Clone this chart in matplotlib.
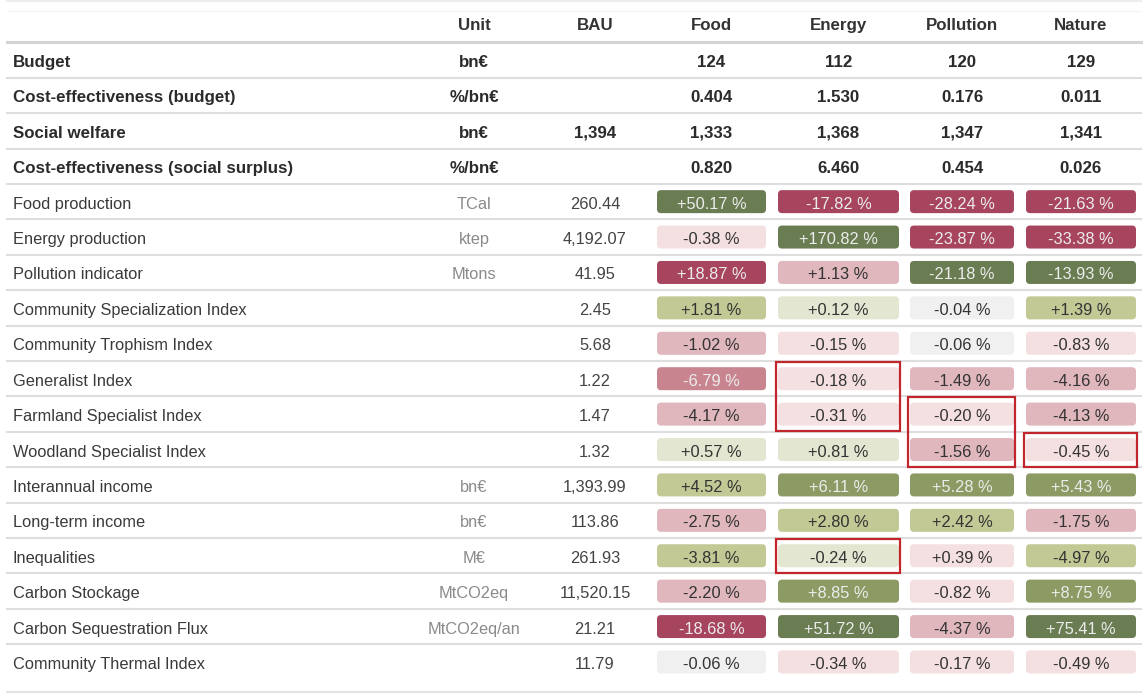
import matplotlib
matplotlib.use("Agg")
import matplotlib.pyplot as plt
from matplotlib.patches import FancyBboxPatch, Rectangle

plt.rcParams['font.family'] = ['Liberation Sans', 'DejaVu Sans']

# ---------------- data ----------------
scenarios = ["Food", "Energy", "Pollution", "Nature"]

summary_labels = ["Budget", "Cost-effectiveness (budget)", "Social welfare",
                  "Cost-effectiveness (social surplus)"]
summary_units = ["bn€", "%/bn€", "bn€", "%/bn€"]
summary_bau = ["", "", "1,394", ""]
budget = [124, 112, 120, 129]
ce_budget = [0.404, 1.530, 0.176, 0.011]
social_welfare = [1333, 1368, 1347, 1341]
ce_social = [0.820, 6.460, 0.454, 0.026]

indicators = ["Food production", "Energy production", "Pollution indicator",
              "Community Specialization Index", "Community Trophism Index",
              "Generalist Index", "Farmland Specialist Index",
              "Woodland Specialist Index", "Interannual income", "Long-term income",
              "Inequalities", "Carbon Stockage", "Carbon Sequestration Flux",
              "Community Thermal Index"]
indicator_units = ["TCal", "ktep", "Mtons", "", "", "", "", "", "bn€", "bn€", "M€",
                   "MtCO2eq", "MtCO2eq/an", ""]
bau = [260.44, 4192.07, 41.95, 2.45, 5.68, 1.22, 1.47, 1.32, 1393.99, 113.86,
       261.93, 11520.15, 21.21, 11.79]
food = [50.17, -0.38, 18.87, 1.81, -1.02, -6.79, -4.17, 0.57, 4.52, -2.75,
        -3.81, -2.20, -18.68, -0.06]
energy = [-17.82, 170.82, 1.13, 0.12, -0.15, -0.18, -0.31, 0.81, 6.11, 2.80,
          -0.24, 8.85, 51.72, -0.34]
pollution = [-28.24, -23.87, -21.18, -0.04, -0.06, -1.49, -0.20, -1.56, 5.28, 2.42,
             0.39, -0.82, -4.37, -0.17]
nature = [-21.63, -33.38, -13.93, 1.39, -0.83, -4.16, -4.13, -0.45, 5.43, -1.75,
          -4.97, 8.75, 75.41, -0.49]
# +1: an increase is desirable, -1: a decrease is desirable
direction = [1, 1, -1, 1, 1, 1, 1, 1, 1, 1, -1, 1, 1, 1]

highlights = [("Energy", "Generalist Index", "Farmland Specialist Index"),
              ("Pollution", "Farmland Specialist Index", "Woodland Specialist Index"),
              ("Nature", "Woodland Specialist Index", "Woodland Specialist Index"),
              ("Energy", "Inequalities", "Inequalities")]

# ---------------- style / layout ----------------
W, H = 1145, 695
level_colors = {4: "#6a7c51", 3: "#8b9b63", 2: "#c2c995", 1: "#e3e6d0", 0: "#f1f0f1",
                -1: "#f5e0e1", -2: "#dfb7bd", -3: "#c8858f", -4: "#a7455f"}
col_left = [657, 778, 910, 1026]
col_right = [766, 899, 1014, 1136]
x_label, x_unit, x_bau = 13, 474, 595
y_header = 23
y_first = 60
step = 35.41
line_x0, line_x1 = 7, 1141
sep_color = "#dedede"
fs = 11.8
fs_b = 12.2
VA = "center_baseline"


def level(v, d):
    a = abs(v)
    if a < 0.1:
        b = 0
    elif a < 1:
        b = 1
    elif a < 5:
        b = 2
    elif a < 10:
        b = 3
    else:
        b = 4
    s = 1 if v * d > 0 else -1
    return s * b


fig = plt.figure(figsize=(W / 100, H / 100), dpi=100)
ax = fig.add_axes([0, 0, 1, 1])
ax.set_xlim(0, W)
ax.set_ylim(H, 0)
ax.axis("off")

col_centers = [(l + r) / 2 for l, r in zip(col_left, col_right)]

# header
ax.plot([line_x0, line_x1], [1, 1], color="#ececec", lw=1.5)
ax.plot([line_x0, line_x1], [11, 11], color="#f6f6f6", lw=1)
for txt, x in zip(["Unit", "BAU"] + scenarios, [x_unit, x_bau] + col_centers):
    ax.text(x, y_header + 1, txt, ha="center", va=VA, fontsize=fs_b,
            fontweight="bold", color="#333333")
ax.plot([line_x0, line_x1], [42, 42], color="#d4d4d4", lw=2.2)

# summary rows
summary_values = [[f"{v:d}" for v in budget],
                  [f"{v:.3f}" for v in ce_budget],
                  [f"{v:,d}" for v in social_welfare],
                  [f"{v:.3f}" for v in ce_social]]
n_rows = len(summary_labels) + len(indicators)
row_y = [y_first + i * step for i in range(n_rows)]

for i, (lab, un, b, vals) in enumerate(zip(summary_labels, summary_units,
                                           summary_bau, summary_values)):
    y = row_y[i] + 1
    ax.text(x_label, y, lab, ha="left", va=VA, fontsize=fs_b,
            fontweight="bold", color="#2b2b2b")
    ax.text(x_unit, y, un, ha="center", va=VA, fontsize=fs_b,
            fontweight="bold", color="#2b2b2b")
    ax.text(x_bau, y, b, ha="center", va=VA, fontsize=fs_b,
            fontweight="bold", color="#2b2b2b")
    for x, v in zip(col_centers, vals):
        ax.text(x, y, v, ha="center", va=VA, fontsize=fs_b,
                fontweight="bold", color="#2b2b2b")

# indicator rows
series = [food, energy, pollution, nature]
cell_h = 23
for j, name in enumerate(indicators):
    i = j + len(summary_labels)
    y = row_y[i]
    ax.text(x_label, y + 1, name, ha="left", va=VA, fontsize=fs, color="#3a3a3a")
    ax.text(x_unit, y + 1, indicator_units[j], ha="center", va=VA, fontsize=fs,
            color="#8a8a8a")
    ax.text(x_bau, y + 1, f"{bau[j]:,.2f}", ha="center", va=VA, fontsize=fs,
            color="#444444")
    for k, s in enumerate(series):
        v = s[j]
        lv = level(v, direction[j])
        l, r = col_left[k], col_right[k]
        box = FancyBboxPatch((l + 4, y - cell_h / 2 + 4), r - l - 8, cell_h - 8,
                             boxstyle="round,pad=4,rounding_size=4",
                             facecolor=level_colors[lv], edgecolor="none",
                             mutation_aspect=1, zorder=1)
        ax.add_patch(box)
        tc = "#ececec" if abs(lv) >= 3 else "#333333"
        ax.text((l + r) / 2, y + 1, f"{v:+.2f} %", ha="center", va=VA,
                fontsize=fs, color=tc, zorder=3)

# row separators
for i in range(n_rows - 1):
    ys = (row_y[i] + row_y[i + 1]) / 2
    ax.plot([line_x0, line_x1], [ys, ys], color=sep_color, lw=1.5, zorder=0)
ax.plot([line_x0, line_x1], [692, 692], color="#e4e4e4", lw=1.5)

# highlight boxes
for col, r0, r1 in highlights:
    k = scenarios.index(col)
    y0 = row_y[len(summary_labels) + indicators.index(r0)] - 17
    y1 = row_y[len(summary_labels) + indicators.index(r1)] + 17
    x0 = col_left[k] - 2
    x1 = col_right[k] + 1
    ax.add_patch(Rectangle((x0, y0), x1 - x0, y1 - y0, fill=False,
                           edgecolor="#c0262c", lw=1.6, zorder=5))

fig.savefig("out.png", dpi=100)
